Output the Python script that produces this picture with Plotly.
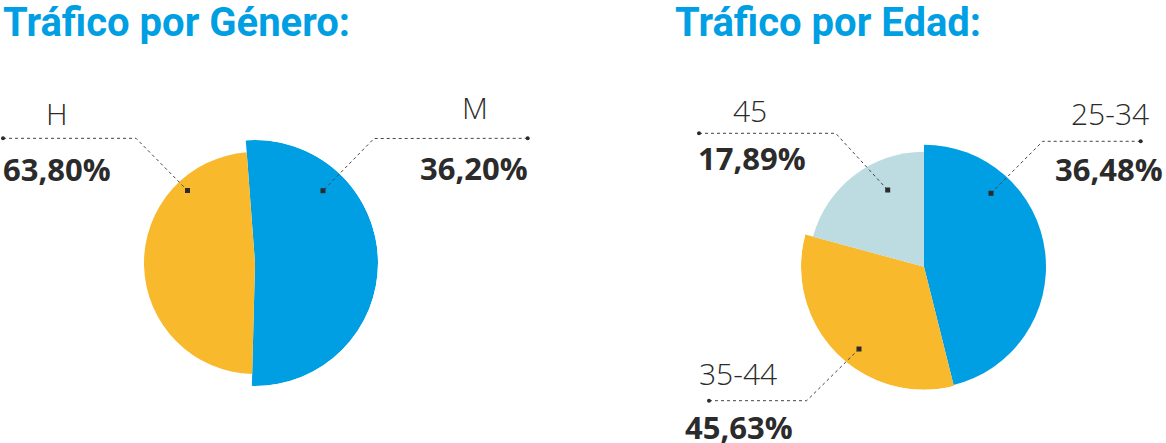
import plotly.graph_objects as go

W, H = 1166, 443

# ---------------- data ----------------
gender_cats = ["M", "H"]
gender_share = [51.6, 48.4]          # angular share of each wedge (%)
gender_radius = [123, 111]           # wedge radius as drawn
gender_pct = ["36,20%", "63,80%"]
gender_start = -4.3                  # degrees clockwise from 12 o'clock

age_cats = ["25-34", "35-44", "45"]
age_share = [46.1, 33.1, 20.8]
age_radius = [122, 123, 115]
age_pct = ["36,48%", "45,63%", "17,89%"]
age_start = 0.0

titles = ["Tráfico por Género:", "Tráfico por Edad:"]

# ---------------- styles ----------------
BLUE = "#009FE3"
YELLOW = "#F8B92C"
LIGHT = "#BCDCE1"
DARK = "#2B2B2B"
gender_colors = [BLUE, YELLOW]
age_colors = [BLUE, YELLOW, LIGHT]


def wedges(shares, start):
    thetas, widths = [], []
    a = start
    for s in shares:
        w = s / 100.0 * 360.0
        thetas.append(a + w / 2)
        widths.append(w)
        a += w
    return thetas, widths


fig = go.Figure()

gt, gw = wedges(gender_share, gender_start)
fig.add_trace(go.Barpolar(r=gender_radius, theta=gt, width=gw, text=gender_cats,
                          marker=dict(color=gender_colors, line=dict(width=0)),
                          subplot="polar", hoverinfo="text", showlegend=False))
at, aw = wedges(age_share, age_start)
fig.add_trace(go.Barpolar(r=age_radius, theta=at, width=aw, text=age_cats,
                          marker=dict(color=age_colors, line=dict(width=0)),
                          subplot="polar2", hoverinfo="text", showlegend=False))

# invisible pixel-space overlay for callouts
fig.add_trace(go.Scatter(x=[0, W], y=[0, H], mode="markers", marker=dict(opacity=0),
                         hoverinfo="skip", showlegend=False))


def polar_layout(cx, cy, R):
    return dict(domain=dict(x=[(cx - R) / W, (cx + R) / W],
                            y=[(H - cy - R) / H, (H - cy + R) / H]),
                radialaxis=dict(visible=False, range=[0, R], showgrid=False),
                angularaxis=dict(visible=False, direction="clockwise", rotation=90,
                                 showgrid=False),
                bgcolor="rgba(0,0,0,0)", bargap=0)


callouts = [
    # (cat text, cat x, cat y, pct text, pct x, pct y, pct xanchor, leader points)
    (gender_cats[1], 57, 113.5, gender_pct[1], 1, 169, "left",
     [(3, 138.3), (136, 138.3), (187.5, 190.5)]),
    (gender_cats[0], 475, 107.5, gender_pct[0], 530, 168, "right",
     [(527.7, 138.3), (374, 138.5), (323, 190.7)]),
    (age_cats[2], 749.5, 110.5, age_pct[2], 696, 157.5, "left",
     [(699, 133.3), (835.7, 133.3), (887.7, 190)]),
    (age_cats[0], 1109.5, 113.7, age_pct[0], 1165, 168.7, "right",
     [(1140.7, 141.3), (1042.7, 141.3), (991, 193.3)]),
    (age_cats[1], 737.5, 373, age_pct[1], 683, 426.7, "left",
     [(709, 400.7), (806.7, 400.7), (859, 349)]),
]

shapes = []
annotations = []
for cat, cx, cy, pct, px, py, pxa, pts in callouts:
    path = "M " + " L ".join(f"{x},{y}" for x, y in pts)
    shapes.append(dict(type="path", path=path, xref="x", yref="y", layer="above",
                       line=dict(color="#444444", width=1, dash="3px,3px")))
    ex, ey = pts[0]
    shapes.append(dict(type="circle", xref="x", yref="y", layer="above",
                       x0=ex - 2, x1=ex + 2, y0=ey - 2, y1=ey + 2,
                       fillcolor=DARK, line=dict(width=0)))
    ax_, ay_ = pts[-1]
    shapes.append(dict(type="rect", xref="x", yref="y", layer="above",
                       x0=ax_ - 2.5, x1=ax_ + 2.5, y0=ay_ - 2.5, y1=ay_ + 2.5,
                       fillcolor=DARK, line=dict(width=0)))
    annotations.append(dict(text=cat, x=cx, y=cy, xref="x", yref="y", showarrow=False,
                            xanchor="center", yanchor="middle",
                            font=dict(family="Open Sans", size=30, color=DARK, weight=300)))
    annotations.append(dict(text=pct, x=px, y=py, xref="x", yref="y", showarrow=False,
                            xanchor=pxa, yanchor="middle",
                            font=dict(family="Open Sans", size=31, color=DARK, weight=700)))

for t, tx in zip(titles, [1, 673]):
    annotations.append(dict(text=t, x=tx, y=22, xref="x", yref="y", showarrow=False,
                            xanchor="left", yanchor="middle",
                            font=dict(family="Roboto", size=40, color=BLUE, weight=700)))

fig.update_layout(
    width=W, height=H, margin=dict(l=0, r=0, t=0, b=0),
    paper_bgcolor="white", plot_bgcolor="rgba(0,0,0,0)",
    polar=polar_layout(255, 263, 123),
    polar2=polar_layout(924, 266.7, 123),
    xaxis=dict(range=[0, W], visible=False, domain=[0, 1], fixedrange=True),
    yaxis=dict(range=[H, 0], visible=False, domain=[0, 1], fixedrange=True),
    shapes=shapes, annotations=annotations, showlegend=False,
)

fig.write_html("out.html", post_script="document.body.style.margin='0';document.body.style.overflow='hidden';",
               config={"displayModeBar": False})
